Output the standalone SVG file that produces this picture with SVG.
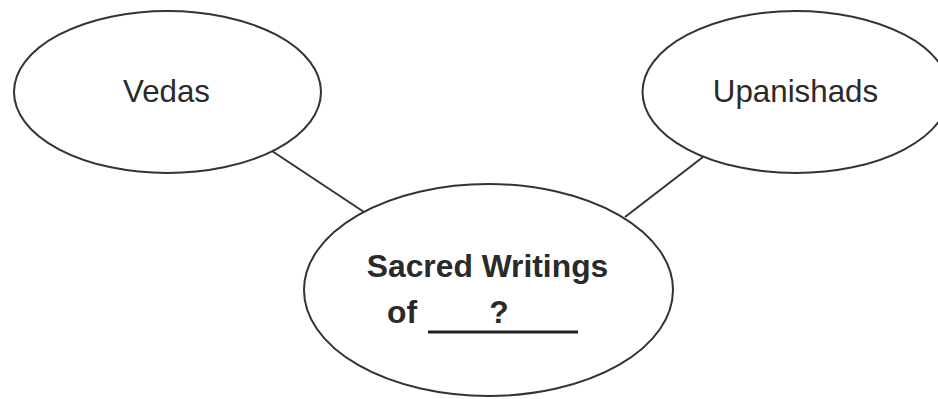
<svg xmlns="http://www.w3.org/2000/svg" width="938" height="399" viewBox="0 0 938 399">
<style>
.node ellipse{fill:#fff;stroke:#333;stroke-width:2}
.edge line{stroke:#333;stroke-width:2}
text{font-family:"Liberation Sans",Arial,sans-serif;fill:#2a2a2a}
.lbl{font-size:31.3px;text-anchor:middle}
.bold{font-size:31.8px;font-weight:bold}
</style>
<rect width="938" height="399" fill="#fff"/>
<g id="connectors" class="edge">
<line x1="272" y1="151" x2="364" y2="212"/>
<line x1="703" y1="157" x2="625" y2="217"/>
</g>
<g id="vedas" class="node">
<ellipse cx="167.5" cy="92" rx="153.5" ry="81"/>
<text class="lbl" x="166.5" y="102">Vedas</text>
</g>
<g id="upanishads" class="node">
<ellipse cx="796" cy="92" rx="153.5" ry="81"/>
<text class="lbl" x="795.5" y="102">Upanishads</text>
</g>
<g id="sacred" class="node">
<ellipse cx="488.5" cy="290" rx="184.5" ry="106"/>
<text class="bold" x="487.5" y="277" text-anchor="middle">Sacred Writings</text>
<text class="bold" x="387" y="323">of</text>
<text class="bold" x="499" y="323" text-anchor="middle">?</text>
<line x1="428" y1="332" x2="578" y2="332" stroke="#222" stroke-width="3"/>
</g>
</svg>
